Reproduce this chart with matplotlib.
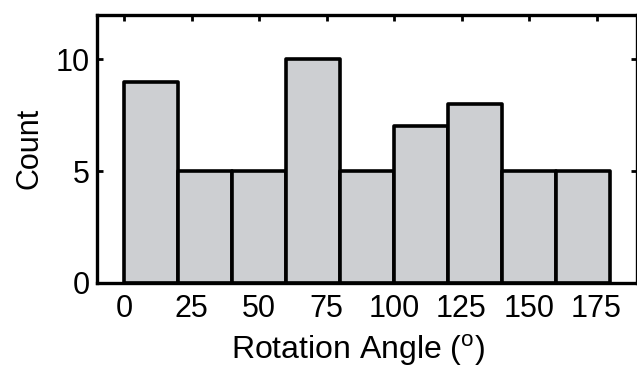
import matplotlib
matplotlib.use("Agg")
import matplotlib.pyplot as plt
import numpy as np

plt.rcParams['font.family'] = ['Liberation Sans', 'DejaVu Sans']
plt.rcParams['mathtext.fontset'] = 'custom'
plt.rcParams['mathtext.rm'] = 'Liberation Sans'

bin_left = [0, 20, 40, 60, 80, 100, 120, 140, 160]
counts = [9, 5, 5, 10, 5, 7, 8, 5, 5]
bin_width = 20
xticks = [0, 25, 50, 75, 100, 125, 150, 175]
yticks = [0, 5, 10]

fig = plt.figure(figsize=(6.37, 3.72), dpi=100)
ax = fig.add_axes([97/637, 1 - 283/372, (637 - 97)/637, (283 - 14.6)/372])

ax.bar(bin_left, counts, width=bin_width, align='edge', color='#cdcfd2',
       edgecolor='black', linewidth=2.6, joinstyle='round', zorder=2)

ax.set_xlim(-10, 190)
ax.set_ylim(0, 12)
ax.set_xticks(xticks)
ax.set_yticks(yticks)
ax.tick_params(direction='in', length=4, width=2, labelsize=22,
               top=True, right=True)
ax.tick_params(axis='x', pad=8)
ax.tick_params(axis='y', pad=5)
for s in ax.spines.values():
    s.set_linewidth(2.4)
    s.set_zorder(3)

ax.set_xlabel(r'Rotation Angle ($^{\mathrm{o}}$)', fontsize=23, labelpad=5)
ax.xaxis.set_label_coords((358 - 97) / 540, -0.185)
ax.set_ylabel('Count', fontsize=22, labelpad=8)

fig.savefig('out.png', dpi=100)
